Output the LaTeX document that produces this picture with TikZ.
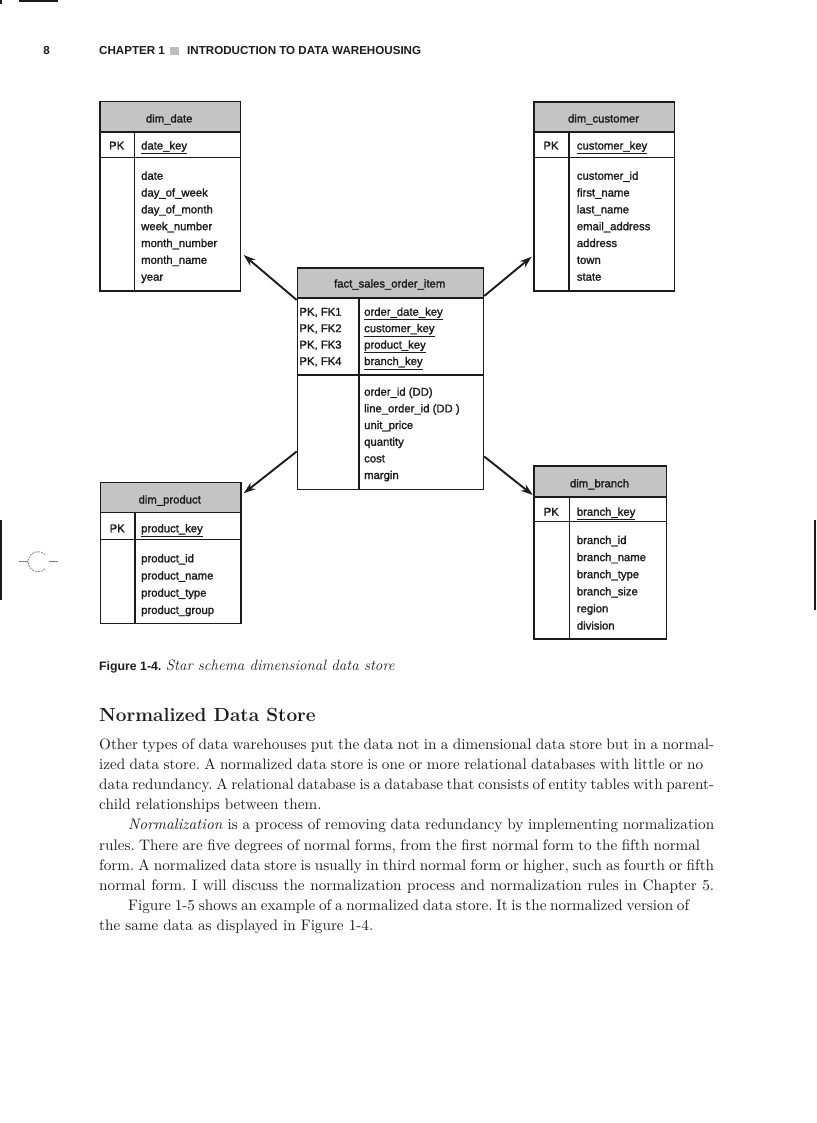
\documentclass[tikz,border=0pt]{standalone}
\usepackage{fontspec}
\newfontfamily\tblfont[FakeBold=1.6]{Liberation Sans}
\newfontfamily\hdfont{Liberation Sans}
\newfontfamily\bodyfont{lmroman10-regular}[Extension=.otf, ItalicFont=lmroman10-italic]
\usetikzlibrary{arrows.meta,calc}
\definecolor{hdrgray}{RGB}{196,196,196}
\definecolor{sqgray}{RGB}{190,190,190}
\definecolor{ink}{RGB}{28,28,28}
\tikzset{
  tbl/.style={draw=ink, line width=1.5pt, inner sep=0pt, anchor=north west},
  hdr/.style={tbl, fill=hdrgray},
  grid/.style={draw=ink, line width=1.5pt},
  fld/.style={font=\tblfont\fontsize{11.3}{13}\selectfont, text=ink, anchor=base west, inner sep=0pt},
  ttl/.style={fld, anchor=base},
  conn/.style={draw=ink, line width=1.9pt, -{Stealth[length=12pt,width=8pt]}},
  bodyline/.style={font=\bodyfont\frenchspacing\fontsize{15.2}{20.2}\selectfont, text=ink, anchor=base west, inner sep=0pt},
  pagehead/.style={font=\hdfont\bfseries\fontsize{11.6}{13}\selectfont, text=ink, inner sep=0pt},
  prmark/.style={draw=ink, line width=1.3pt}
}
\newcommand\ertable[8]{%
  \node[tbl, minimum width={#4-#2}, minimum height={#7-#3}] (#1) at (#2,#3) {};
  \node[hdr, minimum width={#4-#2}, minimum height={#5-#3}] (#1H) at (#2,#3) {};
  \draw[grid] (#2,#6) -- (#4,#6);
  \draw[grid] (#8,#5) -- (#8,#7);
}
\newcommand\fieldcol[5]{%
  \foreach \f [count=\i from 0] in {#5}
    \node[fld] (#1\i) at (#2,{#3+#4*\i}) {\f};
}
\begin{document}
\begin{tikzpicture}[x=1pt,y=-1pt]
\useasboundingbox (0,0) rectangle (816,1123);
\fill[white] (0,0) rectangle (816,1123);

% printer marks
\draw[prmark] (19.3,1) -- (58.3,1);
\draw[prmark] (1,0) -- (1,4);
\draw[prmark] (1,520) -- (1,600);
\draw[prmark] (815,520) -- (815,610);
\draw[gray, line width=0.8pt] (19,561.7) -- (28,561.7);
\draw[gray, line width=0.8pt, dash pattern=on 2pt off 1pt] (45.07,568.77) arc[start angle=45, end angle=315, radius=10];
\draw[gray, line width=0.8pt] (49,561.7) -- (58,561.7);

% running head
\node[pagehead, anchor=base] (pgnum) at (46.7,55) {8};
\node[pagehead, anchor=base west] (chap) at (99,55) {CHAPTER 1};
\node[fill=sqgray, minimum size=8.6pt, inner sep=0pt] (sq) at (174.7,51) {};
\node[pagehead, anchor=base west] (intro) at (187,55) {INTRODUCTION TO DATA WAREHOUSING};

% dim_date
\ertable{date}{99}{101}{239.5}{131.5}{157.5}{290}{134.3}
\node[ttl] (dateT) at (169.2,122.5) {dim\_date};
\node[fld, anchor=base] (datePK) at (116.7,149.5) {PK};
\node[fld] (dateK) at (141,149.5) {\underline{date\_key}};
\fieldcol{dateF}{141}{179.7}{16.83}{date,day\_of\_week,day\_of\_month,week\_number,month\_number,month\_name,year}

% dim_customer
\ertable{cust}{533.3}{101.3}{673.7}{131.5}{157.5}{290}{569}
\node[ttl] (custT) at (603.5,122.5) {dim\_customer};
\node[fld, anchor=base] (custPK) at (551,149.5) {PK};
\node[fld] (custK) at (576.7,149.5) {\underline{customer\_key}};
\fieldcol{custF}{576.7}{179.7}{16.83}{customer\_id,first\_name,last\_name,email\_address,address,town,state}

% fact_sales_order_item
\ertable{fact}{296.7}{267.3}{482.7}{297.3}{375}{488.7}{359}
\node[ttl] (factT) at (389.7,287.5) {fact\_sales\_order\_item};
\fieldcol{factPK}{299.3}{315.7}{16.45}{{PK, FK1},{PK, FK2},{PK, FK3},{PK, FK4}}
\fieldcol{factK}{364}{315.7}{16.45}{\underline{order\_date\_key},\underline{customer\_key},\underline{product\_key},\underline{branch\_key}}
\fieldcol{factF}{364}{395.7}{16.66}{order\_id (DD),line\_order\_id (DD ),unit\_price,quantity,cost,margin}

% dim_product
\ertable{prod}{99.5}{481.7}{240}{511.7}{539.3}{622.7}{135}
\node[ttl] (prodT) at (169.7,503.5) {dim\_product};
\node[fld, anchor=base] (prodPK) at (117.2,532.3) {PK};
\node[fld] (prodK) at (141,532.3) {\underline{product\_key}};
\fieldcol{prodF}{141}{562.3}{17.2}{product\_id,product\_name,product\_type,product\_group}

% dim_branch
\ertable{branch}{533.3}{465}{665.7}{496}{521.7}{638.3}{569.3}
\node[ttl] (branchT) at (599.5,487.3) {dim\_branch};
\node[fld, anchor=base] (branchPK) at (551.3,515.7) {PK};
\node[fld] (branchK) at (576.7,515.7) {\underline{branch\_key}};
\fieldcol{branchF}{576.7}{544}{17.1}{branch\_id,branch\_name,branch\_type,branch\_size,region,division}

% connectors
\draw[conn] ($(fact.north west)+(0,32.7)$) -- ($(date.north east)+(2.7,154)$);
\draw[conn] ($(fact.north east)+(0,28.7)$) -- ($(cust.north west)+(-1.6,155.4)$);
\draw[conn] ($(fact.south west)+(0,-38.7)$) -- ($(prod.north east)+(2.2,11.6)$);
\draw[conn] ($(fact.south east)+(0,-33.7)$) -- ($(branch.north west)+(-0.6,30)$);

% caption
\node[anchor=base west, inner sep=0pt, text=ink] (cap) at (99,670.5)
  {{\hdfont\bfseries\fontsize{12.3}{14}\selectfont Figure 1-4.}\fontsize{15}{17}\selectfont\ \textit{Star schema dimensional data store}};

% heading
\node[anchor=base west, inner sep=0pt, text=ink, font=\bfseries\fontsize{19}{22}\selectfont] (head) at (99,721.7) {Normalized Data Store};

% body text (ragged right, as in the reference)
\node[bodyline] (l1) at (99,749) {\makebox[615pt][s]{Other types of data warehouses put the data not in a dimensional data store but in a normal-}};
\node[bodyline] (l2) at (99,769.2) {\makebox[604pt][s]{ized data store. A normalized data store is one or more relational databases with little or no}};
\node[bodyline] (l3) at (99,789.4) {\makebox[615pt][s]{data redundancy. A relational database is a database that consists of entity tables with parent-}};
\node[bodyline] (l4) at (99,809.6) {child relationships between them.};
\node[bodyline] (l5) at (128,829.8) {\makebox[586pt][s]{\textit{Normalization} is a process of removing data redundancy by implementing normalization}};
\node[bodyline] (l6) at (99,850) {\makebox[601pt][s]{rules. There are five degrees of normal forms, from the first normal form to the fifth normal}};
\node[bodyline] (l7) at (99,870.2) {\makebox[615pt][s]{form. A normalized data store is usually in third normal form or higher, such as fourth or fifth}};
\node[bodyline] (l8) at (99,890.4) {\makebox[615pt][s]{normal form. I will discuss the normalization process and normalization rules in Chapter 5.}};
\node[bodyline] (l9) at (128,910.6) {\makebox[561pt][s]{Figure 1-5 shows an example of a normalized data store. It is the normalized version of}};
\node[bodyline] (l10) at (99,930.8) {the same data as displayed in Figure 1-4.};
\end{tikzpicture}
\end{document}
